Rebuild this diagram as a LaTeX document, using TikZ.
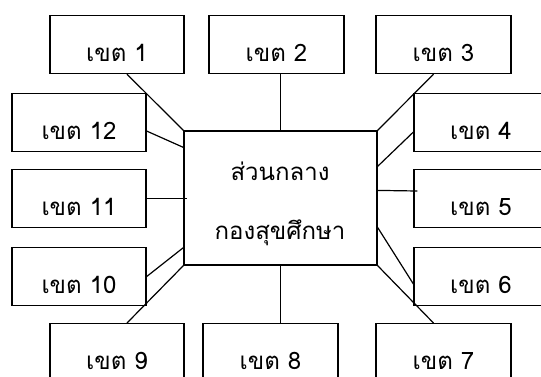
\documentclass[tikz,border=0pt]{standalone}
\usepackage{fontspec}
\newfontfamily\thaifont[Script=Thai]{Loma}
\usetikzlibrary{calc}
\tikzset{
  box/.style={draw=black, line width=1.2pt, fill=white, inner xsep=0pt, inner ysep=0pt,
    minimum width=134pt, text height=46pt, text depth=12pt, font=\thaifont\fontsize{24}{27}\selectfont},
  hub/.style={draw=black, line width=1.2pt, minimum width=193pt, minimum height=134pt, inner sep=0pt},
  lbl/.style={anchor=base, inner sep=0pt, font=\thaifont\fontsize{24}{27}\selectfont},
  link/.style={draw=black, line width=1.2pt}
}
\begin{document}
\begin{tikzpicture}[x=1pt,y=-1pt]
\useasboundingbox (0,0) rectangle (541,376);
\clip (0,0) rectangle (541,376);
\fill[white] (0,0) rectangle (541,376);
% hub
\node[hub] (c) at (280.5,198) {};
\node[lbl] (t1) at (280,180) {ส่วนกลาง};
\node[lbl] (t2) at (280,239) {กองสุขศึกษา};
% boxes: (center x, top y)
\node[box, anchor=north] (b1) at (117,15) {เขต 1};
\node[box, anchor=north, minimum width=135pt] (b2) at (276.5,15) {เขต 2};
\node[box, anchor=north, minimum width=135pt] (b3) at (443.5,15) {เขต 3};
\node[box, anchor=north] (b12) at (79,93) {เขต 12};
\node[box, anchor=north] (b11) at (79,169) {เขต 11};
\node[box, anchor=north] (b10) at (79,247) {เขต 10};
\node[box, anchor=north] (b4) at (481,93) {เขต 4};
\node[box, anchor=north] (b5) at (481,169) {เขต 5};
\node[box, anchor=north] (b6) at (481,247) {เขต 6};
\node[box, anchor=north] (b9) at (117,323) {เขต 9};
\node[box, anchor=north, minimum width=135pt] (b8) at (270.5,323) {เขต 8};
\node[box, anchor=north, minimum width=135pt] (b7) at (443.5,323) {เขต 7};
% connectors
\draw[link] ($(b1.south)+(10,0)$) -- (c.north west);
\draw[link] (c.north) -- (c.north |- b2.south);
\draw[link] (c.north east) -- ($(b3.south)+(-10,0)$);
\draw[link] ($(c.north east)+(0,36)$) -- ($(b4.north west)+(0,39)$);
\draw[link] ($(c.north east)+(0,60)$) -- ($(b5.north west)+(4,22)$);
\draw[link] ($(c.north east)+(0,97)$) -- ($(b6.north west)+(0,37)$);
\draw[link] (c.south east) -- ($(b7.north)+(-10,0)$);
\draw[link] (c.south) -- (c.south |- b8.north);
\draw[link] (c.south west) -- ($(b9.north)+(10,0)$);
\draw[link] ($(c.south west)+(0,-18)$) -- (b10.east);
\draw[link] (b11.east) -- ($(b11.east -| c.west)+(4,0)$);
\draw[link] ($(c.north west)+(0,17)$) -- ($(b12.north east)+(0,38)$);
\end{tikzpicture}
\end{document}
